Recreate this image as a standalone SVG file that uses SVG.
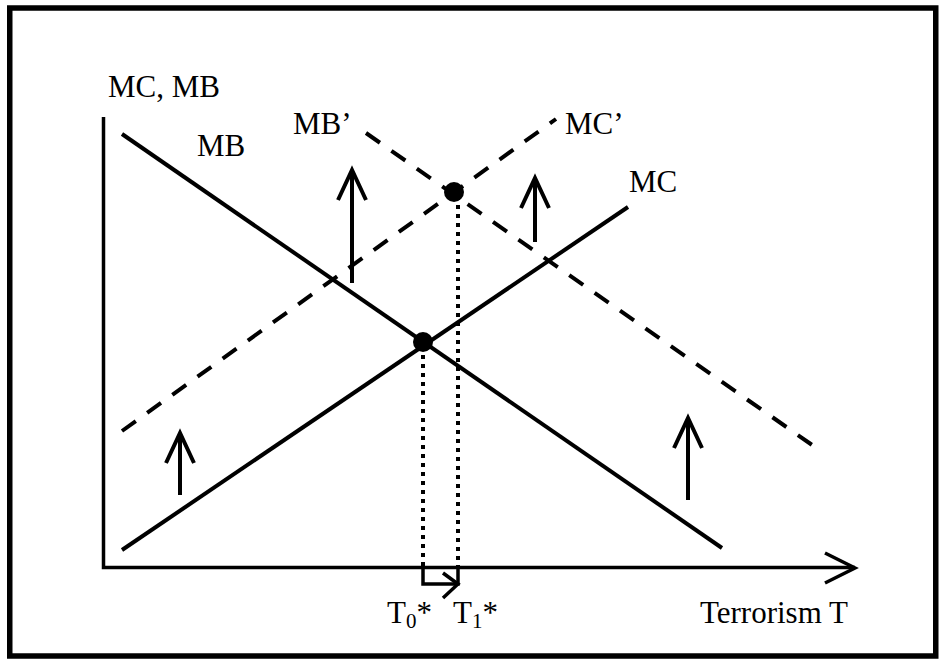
<svg xmlns="http://www.w3.org/2000/svg" width="940" height="659" viewBox="0 0 940 659">
<style>
.t{font-family:"Liberation Serif","Times New Roman",serif;font-size:31px;fill:#000}
.s{font-size:21px}
.ln{stroke:#000;stroke-width:4;fill:none}
.ax{stroke:#000;stroke-width:3.5;fill:none}
.ds{stroke:#000;stroke-width:4;fill:none;stroke-dasharray:17 14}
.dt{stroke:#000;stroke-width:4;fill:none;stroke-dasharray:4 5}
</style>
<rect x="0" y="0" width="940" height="659" fill="#fff"/>
<rect x="9.75" y="8" width="926" height="648" fill="none" stroke="#000" stroke-width="5.5"/>
<g id="axes">
<polyline class="ax" points="103.5,117 103.5,567.5 855,567.5"/>
<polyline class="ax" points="825,553 855,568 825,583"/>
</g>
<g id="connectors">
<line id="MB" class="ln" x1="122" y1="134" x2="722" y2="548"/>
<line id="MC" class="ln" x1="122" y1="550" x2="628" y2="207"/>
<line id="MBp" class="ds" x1="366" y1="133" x2="815" y2="447"/>
<line id="MCp" class="ds" x1="122" y1="431" x2="556" y2="119"/>
<line class="dt" x1="423" y1="346" x2="423" y2="568"/>
<line class="dt" x1="458" y1="196" x2="458" y2="568"/>
<polyline class="ax" points="423,568 423,584 458,584 458,568"/>
<polyline class="ax" points="443,573 458,584 443,598"/>
<g id="up-arrows">
<line class="ln" x1="180" y1="495" x2="180" y2="434"/>
<polyline class="ln" points="166,463 180,433 194,463"/>
<line class="ln" x1="352" y1="283" x2="352" y2="172"/>
<polyline class="ln" points="338,200 352,170 366,200"/>
<line class="ln" x1="535" y1="242" x2="535" y2="180"/>
<polyline class="ln" points="521,208 535,178 549,208"/>
<line class="ln" x1="688" y1="500" x2="688" y2="420"/>
<polyline class="ln" points="674,448 688,418 702,448"/>
</g>
</g>
<g id="eq0"><circle cx="423" cy="342" r="10" fill="#000"/></g>
<g id="eq1"><circle cx="454" cy="192" r="10" fill="#000"/></g>
<g id="labels">
<text class="t" x="108" y="97">MC, MB</text>
<text class="t" x="197" y="156">MB</text>
<text class="t" x="293" y="134">MB’</text>
<text class="t" x="565" y="134">MC’</text>
<text class="t" x="629" y="192">MC</text>
<text class="t" x="387" y="623">T<tspan class="s" dy="5">0</tspan><tspan dy="-5">*</tspan></text>
<text class="t" x="453" y="623">T<tspan class="s" dy="5">1</tspan><tspan dy="-5">*</tspan></text>
<text class="t" x="700" y="623">Terrorism T</text>
</g>
</svg>
